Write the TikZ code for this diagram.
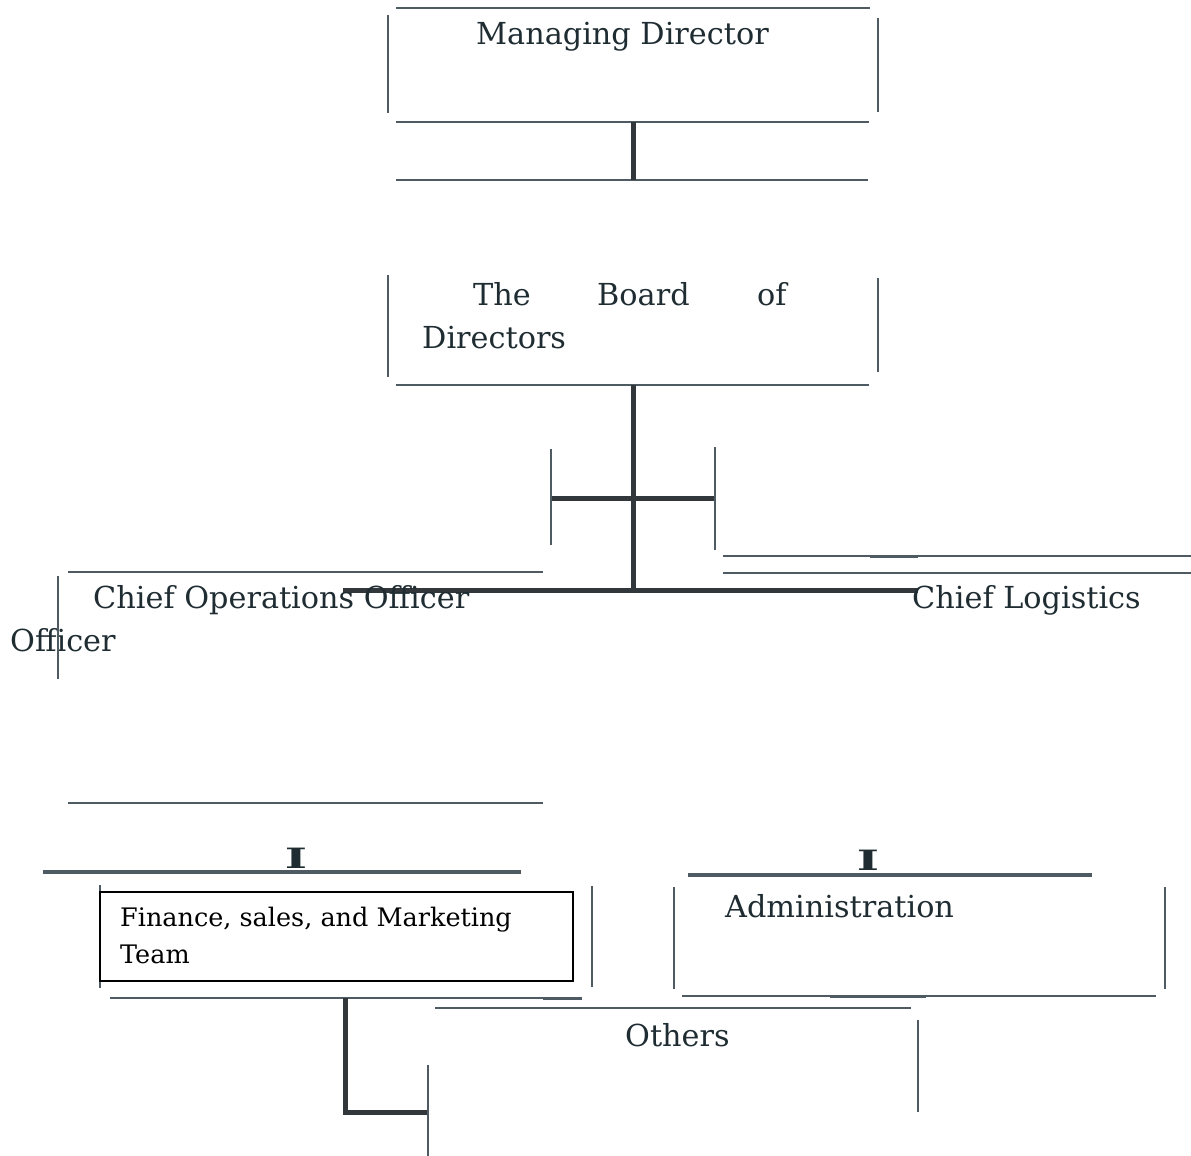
\documentclass[tikz,border=0pt]{standalone}
\usepackage{fontspec}
\setmainfont{DejaVu Serif}
\begin{document}
\begin{tikzpicture}[x=1pt,y=-1pt,
  thin line/.style={draw=linegray,line width=2pt},
  mid line/.style={draw=linegray,line width=4.5pt},
  thick conn/.style={draw=conndark,line width=5pt},
  lbl/.style={anchor=base west,inner sep=0pt,text=textdark,font=\fontsize{30.3}{43}\selectfont},
  small lbl/.style={anchor=base west,inner sep=0pt,text=black,font=\fontsize{25.5}{37}\selectfont},
  bar glyph/.style={anchor=base,inner sep=0pt,text=textdark,font=\bfseries\fontsize{28}{30}\selectfont}]
\definecolor{linegray}{HTML}{4E5B62}
\definecolor{conndark}{HTML}{32373B}
\definecolor{textdark}{HTML}{1F2D33}
\useasboundingbox (0,0) rectangle (1191,1156);

% ---------- Managing Director box ----------
\node[lbl] (md) at (476,45) {Managing Director};
\draw[thin line] (396,8) -- (870,8);
\draw[thin line] (388,15) -- (388,113);
\draw[thin line] (878,18) -- (878,112);
\draw[thin line] (396,122) -- (869,122);
\draw[thin line] (396,180) -- (868,180);
\coordinate (mdA) at (633,122);
\coordinate (mdB) at (633,180);
\draw[thick conn] (mdA) -- (mdB);

% ---------- Board of Directors ----------
\node[lbl] (bd1) at (473,305) {The};
\node[lbl] (bd2) at (597,305) {Board};
\node[lbl] (bd3) at (757,305) {of};
\node[lbl] (bd4) at (422,348) {Directors};
\draw[thin line] (388,275) -- (388,377);
\draw[thin line] (878,278) -- (878,372);
\draw[thin line] (396,385) -- (869,385);

% ---------- main trunk ----------
\coordinate (trunkTop) at (633,385);
\coordinate (trunkBot) at (633,592);
\draw[thick conn] (trunkTop) -- (trunkBot);
\coordinate (crossL) at (551,498);
\coordinate (crossR) at (715,498);
\draw[thick conn] (crossL) -- (crossR);
\draw[thin line] (551,449) -- (551,545);
\draw[thin line] (715,447) -- (715,550);
\coordinate (barL) at (343,590);
\coordinate (barR) at (918,590);
\draw[thick conn] (barL) -- (barR);

% ---------- Chief Operations Officer ----------
\draw[thin line] (68,572) -- (543,572);
\node[lbl] (coo) at (93,608) {Chief Operations Officer};
\node[lbl] (coo2) at (10,651) {Officer};
\draw[thin line] (58,576) -- (58,679);
\draw[thin line] (68,803) -- (543,803);

% ---------- Chief Logistics ----------
\draw[thin line] (723,556) -- (1191,556);
\draw[draw=linegray,line width=3pt] (870,556) -- (918,556);
\draw[thin line] (723,573) -- (1191,573);
\node[lbl] (clo) at (912,608) {Chief Logistics};

% ---------- Finance ----------
\node[bar glyph] (i1) at (296,868) {\scalebox{1.7}[1]{I}};
\draw[mid line] (43,872) -- (521,872);
\draw[thin line] (100,885) -- (100,988);
\draw[draw=black,line width=2pt] (100,892) rectangle (573,981);
\node[small lbl] (fin1) at (120,926) {Finance, sales, and Marketing};
\node[small lbl] (fin2) at (120,963) {Team};
\draw[thin line] (592,886) -- (592,987);
\draw[thin line] (110,998) -- (582,998);
\draw[draw=linegray,line width=3pt] (543,998) -- (582,998);

% ---------- Others ----------
\coordinate (finBot) at (345,998);
\coordinate (elbow) at (345,1112);
\coordinate (othL) at (428,1112);
\draw[thick conn] (finBot) -- (elbow) -- (othL);
\draw[thin line] (428,1065) -- (428,1156);
\draw[thin line] (435,1008) -- (911,1008);
\node[lbl] (oth) at (625,1046) {Others};
\draw[thin line] (918,1020) -- (918,1112);

% ---------- Administration ----------
\node[bar glyph] (i2) at (868,870) {\scalebox{1.7}[1]{I}};
\draw[mid line] (688,875) -- (1092,875);
\draw[thin line] (674,887) -- (674,989);
\draw[thin line] (1165,887) -- (1165,989);
\node[lbl] (adm) at (725,917) {Administration};
\draw[thin line] (682,996) -- (1156,996);
\draw[draw=linegray,line width=3pt] (830,996) -- (926,996);
\end{tikzpicture}
\end{document}
